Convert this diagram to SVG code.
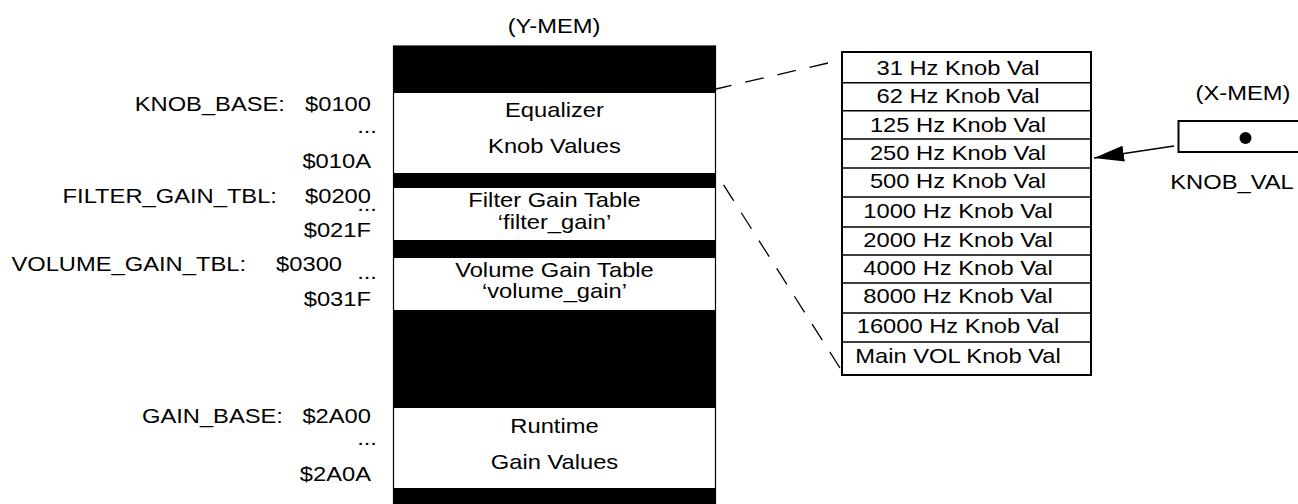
<svg xmlns="http://www.w3.org/2000/svg" width="1298" height="504" viewBox="0 0 1298 504">
<style>
text{font-family:"Liberation Sans",Arial,sans-serif;font-size:21px;fill:#000}
.c{text-anchor:middle}
.e{text-anchor:end}
.blk{fill:#000;stroke:none}
.dash{fill:none;stroke:#000;stroke-width:1.3;stroke-dasharray:19 14}
.row{stroke:#000;stroke-width:1.6}
</style>
<defs>
<marker id="ah" markerUnits="userSpaceOnUse" markerWidth="32" markerHeight="18" refX="30" refY="8" orient="auto">
<path d="M0,0 L30,8 L0,16 Z" fill="#000"/>
</marker>
</defs>
<rect width="1298" height="504" fill="#fff"/>

<g id="ymem">
<text class="c" transform="scale(1.13 1)" x="490.3" y="33">(Y-MEM)</text>
<rect x="393.5" y="46" width="322" height="470" fill="#fff" stroke="#000" stroke-width="1.2"/>
<rect class="blk" x="393" y="46" width="323" height="47"/>
<rect class="blk" x="393" y="173" width="323" height="15"/>
<rect class="blk" x="393" y="240" width="323" height="18"/>
<rect class="blk" x="393" y="310" width="323" height="98"/>
<rect class="blk" x="393" y="488" width="323" height="16"/>
</g>

<g id="eq">
<text class="c" transform="scale(1.13 1)" x="490.7" y="117">Equalizer</text>
<text class="c" transform="scale(1.13 1)" x="490.7" y="153">Knob Values</text>
</g>
<g id="filter">
<text class="c" transform="scale(1.13 1)" x="490.7" y="207">Filter Gain Table</text>
<text class="c" transform="scale(1.13 1)" x="490.7" y="229">‘filter_gain’</text>
</g>
<g id="volume">
<text class="c" transform="scale(1.13 1)" x="490.7" y="277">Volume Gain Table</text>
<text class="c" transform="scale(1.13 1)" x="490.7" y="298">‘volume_gain’</text>
</g>
<g id="runtime">
<text class="c" transform="scale(1.13 1)" x="490.7" y="433">Runtime</text>
<text class="c" transform="scale(1.13 1)" x="490.7" y="469">Gain Values</text>
</g>

<g id="labels">
<text class="e" transform="scale(1.13 1)" x="252.2" y="111">KNOB_BASE:</text>
<text class="e" transform="scale(1.13 1)" x="328.3" y="111">$0100</text>
<text class="e" transform="scale(1.13 1)" x="333.6" y="133">...</text>
<text class="e" transform="scale(1.13 1)" x="328.3" y="168">$010A</text>
<text class="e" transform="scale(1.13 1)" x="245.1" y="203">FILTER_GAIN_TBL:</text>
<text class="e" transform="scale(1.13 1)" x="328.3" y="203">$0200</text>
<text class="e" transform="scale(1.13 1)" x="333.6" y="211">...</text>
<text class="e" transform="scale(1.13 1)" x="328.3" y="237">$021F</text>
<text class="e" transform="scale(1.13 1)" x="217.7" y="271">VOLUME_GAIN_TBL:</text>
<text class="e" transform="scale(1.13 1)" x="302.7" y="271">$0300</text>
<text class="e" transform="scale(1.13 1)" x="333.6" y="279">...</text>
<text class="e" transform="scale(1.13 1)" x="328.3" y="306">$031F</text>
<text class="e" transform="scale(1.13 1)" x="250.4" y="423">GAIN_BASE:</text>
<text class="e" transform="scale(1.13 1)" x="328.3" y="423">$2A00</text>
<text class="e" transform="scale(1.13 1)" x="333.6" y="445">...</text>
<text class="e" transform="scale(1.13 1)" x="328.3" y="481">$2A0A</text>
</g>

<g id="knobtable">
<rect x="842" y="52" width="249" height="323" fill="#fff" stroke="#000" stroke-width="2"/>
<line class="row" x1="842" y1="82.7" x2="1091" y2="82.7"/>
<line class="row" x1="842" y1="110.7" x2="1091" y2="110.7"/>
<line class="row" x1="842" y1="139" x2="1091" y2="139"/>
<line class="row" x1="842" y1="168" x2="1091" y2="168"/>
<line class="row" x1="842" y1="197" x2="1091" y2="197"/>
<line class="row" x1="842" y1="227" x2="1091" y2="227"/>
<line class="row" x1="842" y1="255" x2="1091" y2="255"/>
<line class="row" x1="842" y1="283" x2="1091" y2="283"/>
<line class="row" x1="842" y1="313" x2="1091" y2="313"/>
<line class="row" x1="842" y1="342" x2="1091" y2="342"/>
<text class="c" transform="scale(1.13 1)" x="847.8" y="75">31 Hz Knob Val</text>
<text class="c" transform="scale(1.13 1)" x="847.8" y="103">62 Hz Knob Val</text>
<text class="c" transform="scale(1.13 1)" x="847.8" y="132">125 Hz Knob Val</text>
<text class="c" transform="scale(1.13 1)" x="847.8" y="160">250 Hz Knob Val</text>
<text class="c" transform="scale(1.13 1)" x="847.8" y="188">500 Hz Knob Val</text>
<text class="c" transform="scale(1.13 1)" x="847.8" y="218">1000 Hz Knob Val</text>
<text class="c" transform="scale(1.13 1)" x="847.8" y="247">2000 Hz Knob Val</text>
<text class="c" transform="scale(1.13 1)" x="847.8" y="275">4000 Hz Knob Val</text>
<text class="c" transform="scale(1.13 1)" x="847.8" y="303">8000 Hz Knob Val</text>
<text class="c" transform="scale(1.13 1)" x="847.8" y="333">16000 Hz Knob Val</text>
<text class="c" transform="scale(1.13 1)" x="847.8" y="363">Main VOL Knob Val</text>
</g>

<g id="xmem">
<text class="c" transform="scale(1.13 1)" x="1100" y="100">(X-MEM)</text>
<rect x="1178.5" y="121" width="140" height="31" fill="#fff" stroke="#000" stroke-width="2"/>
<circle cx="1245.5" cy="138" r="6" fill="#000"/>
<text class="c" transform="scale(1.13 1)" x="1090.3" y="189">KNOB_VAL</text>
</g>

<g id="connectors">
<line class="dash" x1="828" y1="63" x2="716" y2="89"/>
<line class="dash" x1="840" y1="368" x2="716" y2="173"/>
<line x1="1174" y1="146" x2="1094" y2="158" stroke="#000" stroke-width="1.5" marker-end="url(#ah)"/>
</g>
</svg>
